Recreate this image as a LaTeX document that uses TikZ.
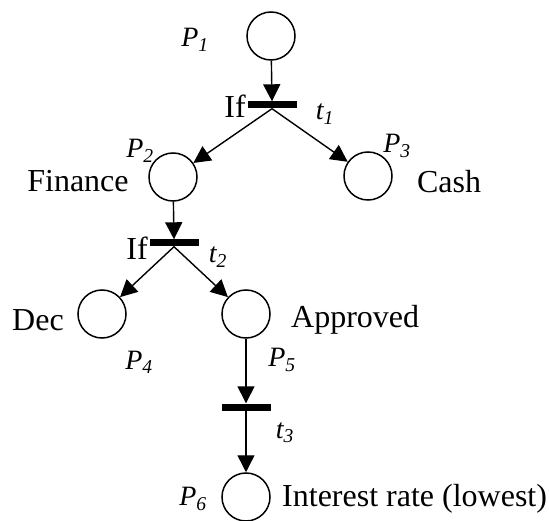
\documentclass[tikz,border=0pt]{standalone}
\usepackage{fontspec}
\setmainfont{Liberation Serif}
\usetikzlibrary{arrows.meta}
\begin{document}
\begin{tikzpicture}[x=1pt,y=-1pt,
  place/.style={circle,draw,line width=1.5pt,minimum size=48pt,inner sep=0pt},
  trans/.style={rectangle,fill=black,minimum width=49pt,minimum height=7pt,inner sep=0pt},
  arc/.style={line width=1.4pt,-{Triangle[length=17pt,width=17pt]}},
  lbl/.style={font=\fontsize{32}{36}\selectfont,inner sep=0pt},
  ilbl/.style={font=\fontsize{28}{30}\selectfont\itshape,inner sep=0pt}]
\useasboundingbox (0,0) rectangle (549,521);
\node[place] (p1) at (271,36) {};
\node[trans] (t1) at (272,105) {};
\node[place] (p2) at (173,177) {};
\node[place] (p3) at (368,176) {};
\node[trans] (t2) at (174,243) {};
\node[place] (p4) at (102,314) {};
\node[place] (p5) at (246,314) {};
\node[trans] (t3) at (246,407) {};
\node[place] (p6) at (246,497) {};

\draw[arc] (p1) -- (t1.north);
\draw[arc] (t1.south) -- (p2);
\draw[arc] (t1.south) -- (p3);
\draw[arc] (p2) -- (t2.north);
\draw[arc] (t2.south) -- (p4);
\draw[arc] (t2.south) -- (p5);
\draw[arc] (p5) -- (t3.north);
\draw[arc] (t3.south) -- (p6);

\node[ilbl] (lp1) at (195,40) {P\textsubscript{1}};
\node[lbl] (lif1) at (235,106) {If};
\node[ilbl] (lt1) at (325,114) {t\textsubscript{1}};
\node[ilbl] (lp2) at (140,151) {P\textsubscript{2}};
\node[ilbl] (lp3) at (397,146) {P\textsubscript{3}};
\node[lbl] (lfin) at (78,181) {Finance};
\node[lbl] (lcash) at (449,182) {Cash};
\node[lbl] (lif2) at (137,248) {If};
\node[ilbl] (lt2) at (218,257) {t\textsubscript{2}};
\node[lbl] (ldec) at (38,320) {Dec};
\node[ilbl] (lp4) at (139,362) {P\textsubscript{4}};
\node[ilbl] (lp5) at (282,360) {P\textsubscript{5}};
\node[lbl,anchor=west] (lapp) at (291,320) {Approved};
\node[ilbl] (lt3) at (285,433) {t\textsubscript{3}};
\node[ilbl] (lp6) at (193,499) {P\textsubscript{6}};
\node[lbl,anchor=west] (lint) at (282,499) {Interest rate (lowest)};
\end{tikzpicture}
\end{document}
